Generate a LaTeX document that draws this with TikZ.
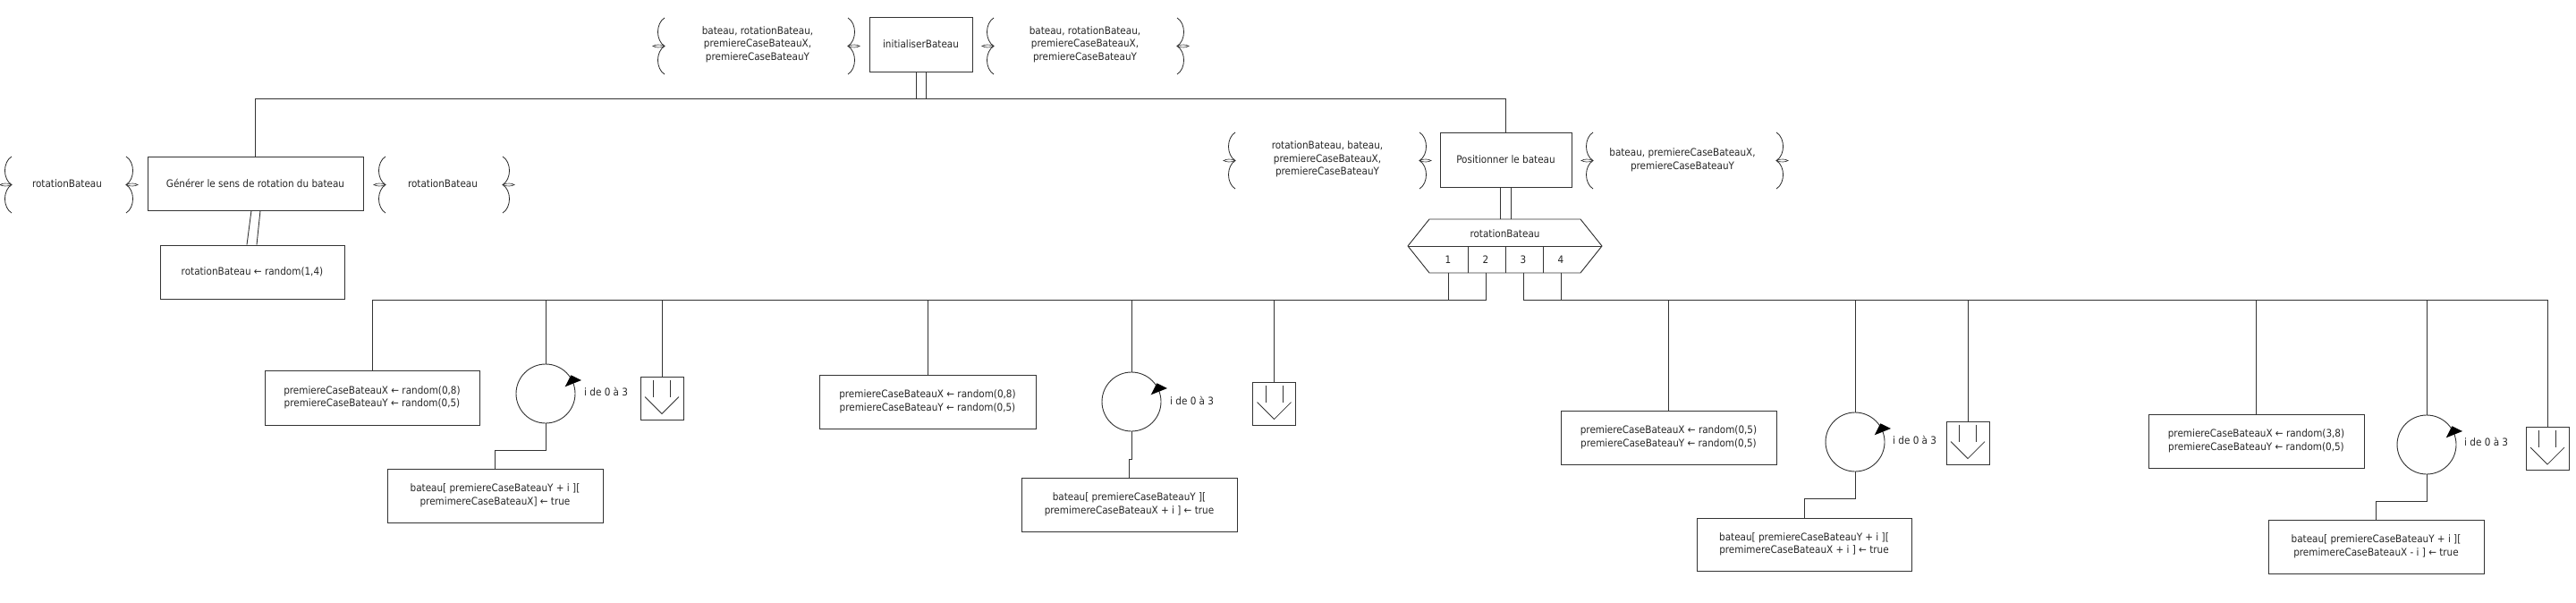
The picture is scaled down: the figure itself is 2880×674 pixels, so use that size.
\documentclass[tikz,border=0pt]{standalone}
\usepackage{fontspec}
\setmainfont{DejaVu Sans Condensed}
\newcommand\fs{\fontsize{11.6}{14.5}\selectfont}
\tikzset{
  ln/.style={draw=black!80, line width=0.9pt},
  box/.style={ln, inner sep=0pt, align=center, font=\fs, text=black!85},
  lbl/.style={inner sep=0pt, align=center, font=\fs, text=black!85},
  loopc/.style={ln, circle, minimum size=66pt, inner sep=0pt},
  exitb/.style={ln, minimum width=48pt, minimum height=48pt, inner sep=0pt},
  brc/.style={draw=black!85, line width=0.8pt},
}
% left brace: #1 x of ends, #2 top y, #3 bottom y
\newcommand\LBr[3]{%
  \pgfmathsetmacro\ym{(#2+#3)/2}%
  \draw[brc] (#1,#2) .. controls ({#1-10},{#2+6}) and ({#1-10},{\ym-6}) .. (#1,\ym)
     .. controls ({#1-10},{\ym+6}) and ({#1-10},{#3-6}) .. (#1,#3);
  \draw[brc, line width=0.6pt] (#1,\ym) .. controls ({#1-5},{\ym-2.4}) and ({#1-10},{\ym-1.6}) .. ({#1-13},\ym)
     .. controls ({#1-10},{\ym+1.6}) and ({#1-5},{\ym+2.4}) .. (#1,\ym);}
\newcommand\RBr[3]{%
  \pgfmathsetmacro\ym{(#2+#3)/2}%
  \draw[brc] (#1,#2) .. controls ({#1+10},{#2+6}) and ({#1+10},{\ym-6}) .. (#1,\ym)
     .. controls ({#1+10},{\ym+6}) and ({#1+10},{#3-6}) .. (#1,#3);
  \draw[brc, line width=0.6pt] (#1,\ym) .. controls ({#1+5},{\ym-2.4}) and ({#1+10},{\ym-1.6}) .. ({#1+13},\ym)
     .. controls ({#1+10},{\ym+1.6}) and ({#1+5},{\ym+2.4}) .. (#1,\ym);}
% exit symbol inside an exit box #1
\newcommand\ExitSym[1]{%
  \draw[ln, line width=0.8pt] ([shift={(-9.5,4)}]#1.north) -- ([shift={(-9.5,23)}]#1.north);
  \draw[ln, line width=0.8pt] ([shift={(9.5,4)}]#1.north) -- ([shift={(9.5,23)}]#1.north);
  \draw[ln, line width=0.8pt] ([shift={(-19,23)}]#1.north) -- ([shift={(0,42)}]#1.north) -- ([shift={(19,23)}]#1.north);}
% loop arrow on loop #1
\newcommand\LoopArrow[1]{%
  \fill[black] ([shift={(21.7,-7.7)}]#1.center) -- ([shift={(28.3,-20.7)}]#1.center) -- ([shift={(40,-15)}]#1.center) -- cycle;}
\begin{document}
\begin{tikzpicture}[x=1pt,y=-1pt]
\useasboundingbox (0,0) rectangle (2880,674);
\fill[white] (0,0) rectangle (2880,674);

\coordinate (topy) at (0,110);
\coordinate (busy) at (0,335);

% ---------- level 0 ----------
\node[box, minimum width=115pt, minimum height=61pt] (init) at (1029.5,49.5) {initialiserBateau};
\LBr{743}{20}{83}
\node[lbl] (initin) at (847,49.5) {bateau, rotationBateau,\\premiereCaseBateauX,\\premiereCaseBateauY};
\RBr{948}{20}{83}
\LBr{1111}{20}{83}
\node[lbl] (initout) at (1213,49.5) {bateau, rotationBateau,\\premiereCaseBateauX,\\premiereCaseBateauY};
\RBr{1316}{20}{83}

% ---------- level 1 left ----------
\node[box, minimum width=241pt, minimum height=60pt] (gen) at (285.5,205) {Générer le sens de rotation du bateau};
\LBr{13}{175}{238}
\node[lbl] (genin) at (75,205) {rotationBateau};
\RBr{141}{175}{238}
\LBr{431}{175}{238}
\node[lbl] (genout) at (495,205) {rotationBateau};
\RBr{562}{175}{238}
\node[box, minimum width=206pt, minimum height=60pt] (rnd) at (282,304) {rotationBateau ← random(1,4)};

% ---------- level 1 right ----------
\node[box, minimum width=147pt, minimum height=61pt] (pos) at (1683.5,178.5) {Positionner le bateau};
\LBr{1381}{148}{211}
\node[lbl] (posin) at (1484,178) {rotationBateau, bateau,\\premiereCaseBateauX,\\premiereCaseBateauY};
\RBr{1587}{148}{211}
\LBr{1781}{148}{211}
\node[lbl] (posout) at (1881,179) {bateau, premiereCaseBateauX,\\premiereCaseBateauY};
\RBr{1986}{148}{211}

% top connections
\draw[ln] ([xshift=-5.5]init.south) -- ([xshift=-5.5]init.south |- topy);
\draw[ln] ([xshift=5.5]init.south) -- ([xshift=5.5]init.south |- topy);
\draw[ln] (gen.north) -- (gen.north |- topy) -- (pos.north |- topy) -- (pos.north);
\draw[ln] ([xshift=-4.5]gen.south) -- ([xshift=-6]rnd.north);
\draw[ln] ([xshift=5.5]gen.south) -- ([xshift=5]rnd.north);

% ---------- switch ----------
\coordinate (hextop) at (1683.5,245);
\draw[ln] (1598,245) -- (1767,245) -- (1791,275) -- (1767,305) -- (1598,305) -- (1574,275) -- cycle;
\draw[ln] (1574,275) -- (1791,275);
\draw[ln] (1641,275) -- (1641,305);
\draw[ln] (1683,275) -- (1683,305);
\draw[ln] (1725,275) -- (1725,305);
\node[lbl] (swl) at (1682.5,261) {rotationBateau};
\node[lbl, minimum width=30pt, minimum height=30pt] (c1) at (1619,290) {1};
\node[lbl, minimum width=30pt, minimum height=30pt] (c2) at (1661,290) {2};
\node[lbl, minimum width=30pt, minimum height=30pt] (c3) at (1703,290) {3};
\node[lbl, minimum width=30pt, minimum height=30pt] (c4) at (1745,290) {4};
\draw[ln] ([xshift=-6]pos.south) -- ([xshift=-6]hextop);
\draw[ln] ([xshift=6]pos.south) -- ([xshift=6]hextop);

% ---------- case 1 ----------
\node[box, minimum width=240pt, minimum height=61pt] (a1) at (416,444.5) {premiereCaseBateauX ← random(0,8)\\premiereCaseBateauY ← random(0,5)};
\node[loopc] (l1) at (610,440) {};
\LoopArrow{l1}
\node[lbl, anchor=west] (t1) at (653,438) {i de 0 à 3};
\node[exitb] (x1) at (740,445) {};
\ExitSym{x1}
\node[box, minimum width=241pt, minimum height=60pt] (b1) at (553.5,554) {bateau[ premiereCaseBateauY + i ][\\premimereCaseBateauX] ← true};
\draw[ln] (l1.south) -- ++(0,30) -| (b1.north);

% ---------- case 2 ----------
\node[box, minimum width=242pt, minimum height=60pt] (a2) at (1037,449) {premiereCaseBateauX ← random(0,8)\\premiereCaseBateauY ← random(0,5)};
\node[loopc] (l2) at (1265,449) {};
\LoopArrow{l2}
\node[lbl, anchor=west] (t2) at (1308,448) {i de 0 à 3};
\node[exitb] (x2) at (1424.5,451) {};
\ExitSym{x2}
\node[box, minimum width=241pt, minimum height=60pt] (b2) at (1262.5,564) {bateau[ premiereCaseBateauY ][\\premimereCaseBateauX + i ] ← true};
\draw[ln] (l2.south) -- ++(0,31) -| (b2.north);

% ---------- case 3 ----------
\node[box, minimum width=241pt, minimum height=60pt] (a3) at (1865.5,489) {premiereCaseBateauX ← random(0,5)\\premiereCaseBateauY ← random(0,5)};
\node[loopc] (l3) at (2074,494) {};
\LoopArrow{l3}
\node[lbl, anchor=west] (t3) at (2116,492) {i de 0 à 3};
\node[exitb] (x3) at (2200,495) {};
\ExitSym{x3}
\node[box, minimum width=240pt, minimum height=59pt] (b3) at (2017,608.5) {bateau[ premiereCaseBateauY + i ][\\premimereCaseBateauX + i ] ← true};
\draw[ln] (l3.south) -- ++(0,30) -| (b3.north);

% ---------- case 4 ----------
\node[box, minimum width=241pt, minimum height=60pt] (a4) at (2522.5,493) {premiereCaseBateauX ← random(3,8)\\premiereCaseBateauY ← random(0,5)};
\node[loopc] (l4) at (2713,497) {};
\LoopArrow{l4}
\node[lbl, anchor=west] (t4) at (2755,494) {i de 0 à 3};
\node[exitb] (x4) at (2848,501.5) {};
\ExitSym{x4}
\node[box, minimum width=241pt, minimum height=60pt] (b4) at (2656.5,611) {bateau[ premiereCaseBateauY + i ][\\premimereCaseBateauX - i ] ← true};
\draw[ln] (l4.south) -- ++(0,30) -| (b4.north);

% ---------- buses ----------
\draw[ln] (a1.north) -- (a1.north |- busy) -- (c2.south |- busy) -- (c2.south);
\draw[ln] (c1.south) -- (c1.south |- busy);
\draw[ln] (l1.north) -- (l1.north |- busy);
\draw[ln] (x1.north) -- (x1.north |- busy);
\draw[ln] (a2.north) -- (a2.north |- busy);
\draw[ln] (l2.north) -- (l2.north |- busy);
\draw[ln] (x2.north) -- (x2.north |- busy);
\draw[ln] (c3.south) -- (c3.south |- busy) -- (x4.north |- busy) -- (x4.north);
\draw[ln] (c4.south) -- (c4.south |- busy);
\draw[ln] (a3.north) -- (a3.north |- busy);
\draw[ln] (l3.north) -- (l3.north |- busy);
\draw[ln] (x3.north) -- (x3.north |- busy);
\draw[ln] (a4.north) -- (a4.north |- busy);
\draw[ln] (l4.north) -- (l4.north |- busy);
\end{tikzpicture}
\end{document}
